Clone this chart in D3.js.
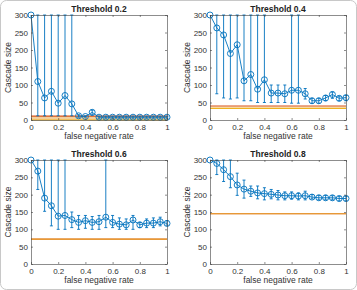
<!DOCTYPE html>
<html>
<head>
<meta charset="utf-8">
<script src="https://cdn.jsdelivr.net/npm/d3@7"></script>
<style>
  body { margin: 0; background: #fff; }
  svg { display: block; font-family: "Liberation Sans", Arial, sans-serif; }
</style>
</head>
<body>
<svg width="357" height="290"></svg>
<script>
// false negative rate (x values, shared)
const fnr = [0, 0.05, 0.1, 0.15, 0.2, 0.25, 0.3, 0.35, 0.4, 0.45, 0.5, 0.55, 0.6, 0.65, 0.7, 0.75, 0.8, 0.85, 0.9, 0.95, 1];
const titles = ["Threshold 0.2", "Threshold 0.4", "Threshold 0.6", "Threshold 0.8"];
const xTicks = [0, 0.2, 0.4, 0.6, 0.8, 1];
const yTicks = [0, 50, 100, 150, 200, 250, 300];

// mean cascade size
const mean02 = [300, 110, 63, 82, 48, 70, 46, 12, 10, 22, 8, 8, 8, 8, 8, 8, 8, 8, 8, 8, 8];
const mean04 = [300, 263, 243, 190, 215, 112, 130, 88, 115, 77, 77, 75, 85, 85, 75, 55, 55, 63, 73, 62, 64];
const mean06 = [300, 268, 190, 168, 138, 140, 128, 120, 125, 120, 122, 135, 120, 115, 113, 127, 113, 118, 118, 122, 117];
const mean08 = [300, 290, 272, 252, 228, 216, 210, 205, 203, 201, 199, 197, 197, 196, 197, 193, 191, 191, 191, 189, 189];

// error bar ends
const low02 = [300, 12, 12, 12, 12, 12, 12, 8, 8, 14, 5, 5, 5, 5, 5, 5, 5, 5, 5, 5, 5];
const high02 = [300, 300, 300, 300, 300, 300, 300, 15, 12, 28, 11, 11, 11, 11, 11, 11, 11, 11, 11, 11, 11];
const low04 = [300, 75, 63, 60, 63, 55, 55, 50, 50, 50, 50, 50, 48, 48, 60, 48, 48, 55, 62, 55, 55];
const high04 = [300, 300, 300, 300, 300, 300, 300, 300, 300, 100, 100, 100, 300, 300, 90, 62, 62, 70, 80, 68, 70];
const low06 = [300, 215, 152, 110, 100, 100, 105, 100, 103, 100, 100, 105, 105, 100, 100, 100, 105, 105, 105, 110, 112];
const high06 = [300, 300, 300, 300, 300, 300, 150, 140, 140, 137, 140, 300, 140, 133, 130, 140, 120, 130, 133, 135, 125];
const low08 = [300, 258, 238, 220, 198, 190, 195, 188, 185, 188, 185, 185, 187, 185, 185, 188, 185, 185, 185, 182, 182];
const high08 = [300, 300, 300, 300, 262, 242, 225, 225, 220, 215, 212, 208, 208, 205, 210, 200, 198, 198, 197, 195, 195];

// reference levels (lower, upper)
const ref02 = [0, 11];
const ref04 = [33, 40];
const ref06 = [72, 72];
const ref08 = [145, 145];

const panels = [
  { title: titles[0], mean: mean02, low: low02, high: high02, ref: ref02, x0: 31, x1: 167, y0: 120, y1: 15 },
  { title: titles[1], mean: mean04, low: low04, high: high04, ref: ref04, x0: 210, x1: 346, y0: 120, y1: 15 },
  { title: titles[2], mean: mean06, low: low06, high: high06, ref: ref06, x0: 31, x1: 167, y0: 264, y1: 160 },
  { title: titles[3], mean: mean08, low: low08, high: high08, ref: ref08, x0: 210, x1: 346, y0: 264, y1: 160 }
];

const blue = "#0072BD";
const svg = d3.select("svg");

svg.append("rect")
  .attr("x", 0.5).attr("y", 0.5)
  .attr("width", 356).attr("height", 289)
  .attr("rx", 6)
  .attr("fill", "none")
  .attr("stroke", "#c8c8c8");

panels.forEach(p => {
  const x = d3.scaleLinear().domain([0, 1]).range([p.x0, p.x1]);
  const y = d3.scaleLinear().domain([0, 300]).range([p.y0, p.y1]);
  const g = svg.append("g");

  // reference band / lines (red drawn first, yellow on top)
  if (p.ref[1] > p.ref[0]) {
    g.append("rect")
      .attr("x", x(0)).attr("width", x(1) - x(0))
      .attr("y", y(p.ref[1])).attr("height", y(p.ref[0]) - y(p.ref[1]))
      .attr("fill", p.ref[0] === 0 ? "#f3cf9d" : "#fbe9c8");
  }
  g.append("line")
    .attr("x1", x(0)).attr("x2", x(1))
    .attr("y1", y(p.ref[1])).attr("y2", y(p.ref[1]))
    .attr("stroke", "#D95319").attr("stroke-width", 1.2);
  g.append("line")
    .attr("x1", x(0)).attr("x2", x(1))
    .attr("y1", y(p.ref[0])).attr("y2", y(p.ref[0]))
    .attr("stroke", "#EDB120").attr("stroke-width", 1.2)
    .attr("stroke-opacity", p.ref[0] === p.ref[1] ? 0.7 : 1);

  // error bars
  const eb = g.append("g").attr("stroke", blue).attr("stroke-width", 0.9).attr("fill", "none");
  fnr.forEach((v, i) => {
    if (p.high[i] === p.low[i]) return;
    const cx = x(v);
    eb.append("line").attr("x1", cx).attr("x2", cx).attr("y1", y(p.low[i])).attr("y2", y(p.high[i]));
    eb.append("line").attr("x1", cx - 1.5).attr("x2", cx + 1.5).attr("y1", y(p.low[i])).attr("y2", y(p.low[i]));
    eb.append("line").attr("x1", cx - 1.5).attr("x2", cx + 1.5).attr("y1", y(p.high[i])).attr("y2", y(p.high[i]));
  });

  // mean line + markers
  const line = d3.line().x((d, i) => x(fnr[i])).y(d => y(d));
  g.append("path")
    .attr("d", line(p.mean))
    .attr("fill", "none")
    .attr("stroke", blue)
    .attr("stroke-width", 0.9);
  g.selectAll("circle.m")
    .data(p.mean)
    .enter().append("circle")
    .attr("cx", (d, i) => x(fnr[i]))
    .attr("cy", d => y(d))
    .attr("r", 3)
    .attr("fill", "none")
    .attr("stroke", blue)
    .attr("stroke-width", 0.9);

  // axes, MATLAB style box with inward ticks
  const axCol = "#404040";
  const fmt = d => d3.format("~g")(d);
  const axB = g.append("g").attr("transform", `translate(0,${p.y0})`)
    .call(d3.axisBottom(x).tickValues(xTicks).tickFormat(fmt).tickSizeInner(-2).tickSizeOuter(0).tickPadding(4));
  const axT = g.append("g").attr("transform", `translate(0,${p.y1})`)
    .call(d3.axisTop(x).tickValues(xTicks).tickFormat("").tickSizeInner(-2).tickSizeOuter(0));
  const axL = g.append("g").attr("transform", `translate(${p.x0},0)`)
    .call(d3.axisLeft(y).tickValues(yTicks).tickSizeInner(-2).tickSizeOuter(0).tickPadding(3));
  const axR = g.append("g").attr("transform", `translate(${p.x1},0)`)
    .call(d3.axisRight(y).tickValues(yTicks).tickFormat("").tickSizeInner(-2).tickSizeOuter(0));
  [axB, axT, axL, axR].forEach(a => {
    a.selectAll("path, line").attr("stroke", axCol).attr("stroke-width", 0.6);
    a.selectAll("text").attr("fill", "#333").attr("font-size", "8px").attr("font-family", "Liberation Sans, Arial, sans-serif");
  });

  // title and labels
  g.append("text")
    .attr("x", (p.x0 + p.x1) / 2).attr("y", p.y1 - 3)
    .attr("text-anchor", "middle")
    .attr("font-size", "8.5px").attr("font-weight", "bold").attr("fill", "#222")
    .text(p.title);
  g.append("text")
    .attr("x", (p.x0 + p.x1) / 2).attr("y", p.y0 + 19)
    .attr("text-anchor", "middle")
    .attr("font-size", "8.5px").attr("fill", "#333")
    .text("false negative rate");
  g.append("text")
    .attr("transform", `translate(${p.x0 - 20},${(p.y0 + p.y1) / 2}) rotate(-90)`)
    .attr("text-anchor", "middle")
    .attr("font-size", "8.5px").attr("fill", "#333")
    .text("Cascade size");
});
</script>
</body>
</html>
